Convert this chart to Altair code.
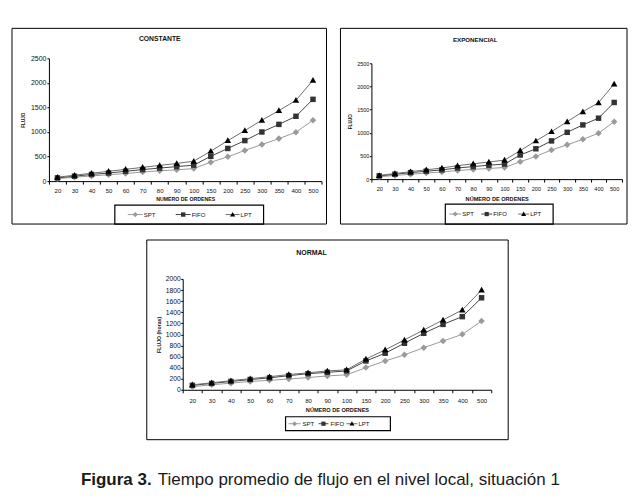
import altair as alt
import pandas as pd

FONT = "Liberation Sans"

ordenes = ["20", "30", "40", "50", "60", "70", "80", "90", "100",
           "150", "200", "250", "300", "350", "400", "500"]
series = ["SPT", "FIFO", "LPT"]

const_spt = [50, 80, 105, 130, 155, 185, 210, 230, 255, 385, 495, 625, 745, 865, 995, 1240]
const_fifo = [65, 100, 135, 165, 200, 235, 265, 295, 325, 505, 665, 825, 1000, 1155, 1320, 1665]
const_lpt = [80, 120, 160, 200, 240, 280, 320, 360, 405, 610, 825, 1030, 1240, 1435, 1645, 2055]

expo_spt = [50, 80, 105, 130, 155, 185, 210, 230, 250, 375, 490, 630, 740, 860, 990, 1240]
expo_fifo = [70, 105, 140, 170, 200, 240, 270, 300, 325, 520, 655, 825, 1010, 1170, 1315, 1655]
expo_lpt = [80, 120, 160, 200, 240, 290, 330, 370, 410, 615, 825, 1025, 1240, 1455, 1650, 2055]

norm_spt = [55, 90, 120, 150, 170, 195, 220, 250, 270, 400, 520, 630, 760, 880, 1000, 1240]
norm_fifo = [80, 115, 150, 185, 215, 255, 290, 315, 340, 520, 660, 840, 1020, 1180, 1320, 1660]
norm_lpt = [90, 125, 165, 200, 235, 275, 305, 340, 360, 555, 720, 900, 1080, 1260, 1440, 1800]

titles = ["CONSTANTE", "EXPONENCIAL", "NORMAL"]
y_titles = ["FLUJO", "FLUJO", "FLUJO (horas)"]
x_titles = ["NUMERO DE ORDENES", "NÚMERO DE ORDENES", "NÚMERO DE ORDENES"]
y_ticks_a = [0, 500, 1000, 1500, 2000, 2500]
y_ticks_b = [0, 200, 400, 600, 800, 1000, 1200, 1400, 1600, 1800, 2000]
caption_bold = "Figura 3."
caption_rest = "Tiempo promedio de flujo en el nivel local, situación 1"

marker_colors = ["#9a9a9a", "#333333", "#000000"]
line_colors = ["#9a9a9a", "#454545", "#6e6e6e"]
shape_paths = [
    "M0,-0.5L0.5,0L0,0.5L-0.5,0Z",
    "M-0.42,-0.42H0.42V0.42H-0.42Z",
    "M0,-0.5L0.5,0.38L-0.5,0.38Z",
]


def long_df(spt, fifo, lpt):
    rows = []
    for name, vals in zip(series, [spt, fifo, lpt]):
        for i, (o, v) in enumerate(zip(ordenes, vals)):
            rows.append({"orden": o, "idx": i, "serie": name, "valor": v})
    return pd.DataFrame(rows)


one = pd.DataFrame({"k": [0]})


def legend_layers(c):
    out = []
    yc = c["legyc"]
    for k, name in enumerate(series):
        x0, x1, xl = c["legent"][k]
        out.append(alt.Chart(one).mark_rule(color=line_colors[k], strokeWidth=1).encode(
            x=alt.value(x0), x2=alt.value(x1), y=alt.value(yc)))
        out.append(alt.Chart(one).mark_point(
            filled=True, opacity=1, size=c["legsize"], shape=shape_paths[k], color=marker_colors[k]
        ).encode(x=alt.value((x0 + x1) / 2), y=alt.value(yc)))
        out.append(alt.Chart(one).mark_text(
            font=FONT, fontSize=6, color="#111", align="left", baseline="middle"
        ).encode(x=alt.value(xl), y=alt.value(yc), text=alt.value(name)))
    return out


def panel(c):
    df = long_df(*c["data"])
    x = alt.X(
        "orden:O", sort=ordenes,
        scale=alt.Scale(type="band", paddingInner=0, paddingOuter=0),
        axis=alt.Axis(
            title=c["xtitle"], labelAngle=0, tickBand="extent", tickSize=3,
            labelFontSize=c["xlab"], labelFont=FONT, labelColor="#111",
            labelPadding=c["xlabpad"], titleFont=FONT, titleFontSize=c["xtfs"],
            titleFontWeight="bold", titleColor="#111", titlePadding=c["xtpad"],
            domainColor="black", tickColor="black", grid=False,
        ),
    )
    y = alt.Y(
        "valor:Q",
        scale=alt.Scale(domain=[0, c["ymax"]], nice=False, zero=True, range=[c["h"], c["ytop"]]),
        axis=alt.Axis(
            title=c["ytitle"], values=c["yticks"], format="d", grid=False, tickSize=2,
            labelFontSize=c["ylab"], labelFont=FONT, labelColor="#111",
            labelPadding=c["ylabpad"], titleFont=FONT, titleFontSize=c["ytfs"],
            titleFontWeight="bold", titleColor="#111", titlePadding=c["ytpad"],
            domainColor="black", tickColor="black",
        ),
    )
    base = alt.Chart(df)
    lines = base.mark_line(strokeWidth=1).encode(
        x=x, y=y,
        stroke=alt.Stroke("serie:N", scale=alt.Scale(domain=series, range=line_colors), legend=None),
        order=alt.Order("idx:Q"),
    )
    points = base.mark_point(filled=True, size=170, opacity=1).encode(
        x=x, y=y,
        color=alt.Color("serie:N", scale=alt.Scale(domain=series, range=marker_colors), legend=None),
        shape=alt.Shape("serie:N", scale=alt.Scale(domain=series, range=shape_paths), legend=None),
    )
    bx = c["box"]
    box = alt.Chart(one).mark_rect(fillOpacity=0, stroke="black", strokeWidth=1).encode(
        x=alt.value(bx[0]), x2=alt.value(bx[1]), y=alt.value(bx[2]), y2=alt.value(bx[3])
    )
    lb = c["legbox"]
    legbox = alt.Chart(one).mark_rect(fillOpacity=0, stroke="black", strokeWidth=1.2).encode(
        x=alt.value(lb[0]), x2=alt.value(lb[1]), y=alt.value(lb[2]), y2=alt.value(lb[3])
    )
    ttl = alt.Chart(one).mark_text(
        font=FONT, fontSize=c["tfs"], fontWeight="bold", color="#111", baseline="middle"
    ).encode(x=alt.value(c["tpos"][0]), y=alt.value(c["tpos"][1]), text=alt.value(c["title"]))
    layers = [box, legbox, ttl, lines, points] + legend_layers(c)
    return alt.layer(*layers).properties(width=c["w"], height=c["h"])


# positions relative to each plot's top-left corner
cfg_const = dict(
    data=(const_spt, const_fifo, const_lpt), title=titles[0], ytitle=y_titles[0], xtitle=x_titles[0],
    ymax=2500, yticks=y_ticks_a, w=273, h=123, ytop=0, box=(-37, 278, -30, 166), legbox=(66, 215, 147, 166),
    tpos=(111, -19), tfs=6.8, legyc=156.5, legsize=110,
    legent=[(79, 94, 95), (127, 142, 143), (177, 191, 192)],
    xlab=6, xlabpad=3, xtfs=5.2, xtpad=3.5, ylab=7, ylabpad=1, ytfs=4.6, ytpad=4.5,
)
cfg_expo = dict(
    data=(expo_spt, expo_fifo, expo_lpt), title=titles[1], ytitle=y_titles[1], xtitle=x_titles[1],
    ymax=2500, yticks=y_ticks_a, w=251, h=121, ytop=5, box=(-31, 256, -30, 166), legbox=(74, 182, 146, 166),
    tpos=(104, -18), tfs=6.2, legyc=156, legsize=100,
    legent=[(78, 90, 91), (110, 121, 122), (147, 158, 159)],
    xlab=5.6, xlabpad=4.5, xtfs=5.6, xtpad=4.5, ylab=5.5, ylabpad=0.5, ytfs=4.6, ytpad=4.5,
)
cfg_norm = dict(
    data=(norm_spt, norm_fifo, norm_lpt), title=titles[2], ytitle=y_titles[2], xtitle=x_titles[2],
    ymax=2000, yticks=y_ticks_b, w=309, h=111, ytop=0, box=(-36, 326, -39, 161), legbox=(103, 208, 138, 152),
    tpos=(129, -26), tfs=7, legyc=145, legsize=100,
    legent=[(106, 118, 120), (136, 146, 148), (164, 175, 176)],
    xlab=6, xlabpad=5, xtfs=5.6, xtpad=4, ylab=6.8, ylabpad=0.5, ytfs=5.2, ytpad=4,
)

c_const = panel(cfg_const)
c_expo = panel(cfg_expo)
c_norm = panel(cfg_norm)

spacer = alt.Chart(one).mark_rect(opacity=0).encode(
    x=alt.value(0), x2=alt.value(1), y=alt.value(0), y2=alt.value(1)
).properties(width=85, height=1)

cap = alt.layer(
    alt.Chart(one).mark_text(font=FONT, fontSize=17, fontWeight="bold", color="#1a1a1a",
                             align="left", baseline="alphabetic").encode(
        x=alt.value(32), y=alt.value(30), text=alt.value(caption_bold)),
    alt.Chart(one).mark_text(font=FONT, fontSize=17, color="#1a1a1a",
                             align="left", baseline="alphabetic").encode(
        x=alt.value(109), y=alt.value(30), text=alt.value(caption_rest)),
).properties(width=540, height=36)

row1 = alt.hconcat(c_const, c_expo, spacing=12)
row2 = alt.hconcat(spacer, c_norm, spacing=12)

chart = alt.vconcat(
    row1, row2, cap, spacing=14,
).properties(
    padding={"top": 19, "left": 3, "right": 0, "bottom": 0},
    background="white",
).configure_view(stroke=None)

chart.save("out.html", embed_options={"renderer": "svg", "actions": False})
